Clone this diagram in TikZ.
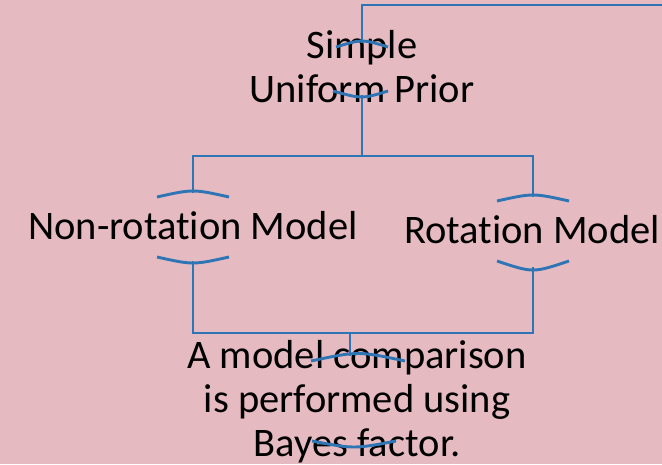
\documentclass[tikz,border=0pt]{standalone}
\usepackage{fontspec}
\setmainfont{Carlito}[Ligatures=NoCommon]
\usepackage{xcolor}
\definecolor{slidepink}{RGB}{230,186,193}
\definecolor{linkblue}{RGB}{46,117,182}
\usepackage{tikz}
\usetikzlibrary{calc}

\tikzset{
  labeltext/.style={font=\fontsize{40.5}{44}\selectfont, align=center, inner sep=0pt, anchor=base},
  link/.style={draw=linkblue, line width=2.9pt},
  caparc/.style={draw=linkblue, line width=2.9pt},
}

\begin{document}
\begin{tikzpicture}[x=1pt, y=-1pt]
  % Background
  \fill[slidepink] (0,0) rectangle (662,464);
  \useasboundingbox (0,0) rectangle (662,464);

  % Text nodes (base = baseline of the last line)
  \node[labeltext] (prior) at (362,102) {Simple\\Uniform Prior};
  \node[labeltext] (nonrot) at (193,239) {Non-rotation Model};
  \node[labeltext] (rot) at (532,243) {Rotation Model};
  \node[labeltext] (compare) at (357,456) {A model comparison\\is performed using\\Bayes factor.};

  % Attachment points on the caps
  \coordinate (prior-in) at (362,43);
  \coordinate (prior-out) at (362,95);
  \coordinate (nonrot-in) at (193,193);
  \coordinate (nonrot-out) at (193,261);
  \coordinate (rot-in) at (533,197);
  \coordinate (rot-out) at (533,267);
  \coordinate (compare-in) at (350,356);
  \coordinate (offpage) at (664,5);
  \coordinate (split) at (362,156);
  \coordinate (join) at (350,333);

  % Caps above and below each label
  \draw[caparc] (336,47) .. controls (362,39) .. (388,47);
  \draw[caparc] (333,91) .. controls (362,99) .. (388,91);
  \draw[caparc] (157,197) .. controls (193,189) .. (229,197);
  \draw[caparc] (157,257) .. controls (193,265) .. (229,257);
  \draw[caparc] (497,201) .. controls (533,193) .. (569,201);
  \draw[caparc] (497,261) .. controls (533,273) .. (569,261);
  \draw[caparc] (311,361) .. controls (358,351) .. (405,361);
  \draw[caparc] (312,441) .. controls (354,449) .. (396,441);

  % Connectors
  \draw[link] (prior-in) |- (offpage);
  \draw[link] (prior-out) -- (split);
  \draw[link] (nonrot-in) |- (split) -| (rot-in);
  \draw[link] (nonrot-out) |- (join) -| (rot-out);
  \draw[link] (join) -- (compare-in);
\end{tikzpicture}
\end{document}
